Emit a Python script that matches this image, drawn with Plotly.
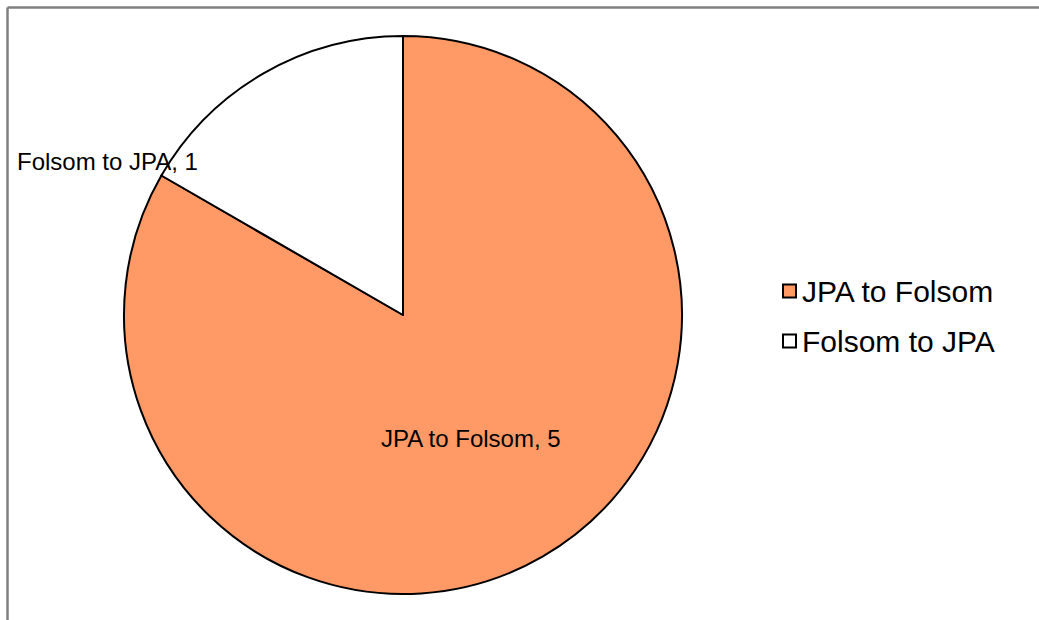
import plotly.graph_objects as go

labels = ["JPA to Folsom", "Folsom to JPA"]
values = [5, 1]
colors = ["#FF9966", "#FFFFFF"]

W, H = 1039, 620


def px(x):
    return x / W


def py(y):
    return 1 - y / H


cx, cy, r = 403, 315, 279

fig = go.Figure()
fig.add_trace(go.Pie(
    labels=labels,
    values=values,
    sort=False,
    direction="clockwise",
    rotation=0,
    marker=dict(colors=colors, line=dict(color="#000000", width=2)),
    textinfo="none",
    hoverinfo="label+value",
    domain=dict(x=[px(cx - r), px(cx + r)], y=[py(cy + r), py(cy - r)]),
    showlegend=False,
))

# data labels
label_pos = [(471, 438), (107, 162)]
for lab, val, (lx, ly) in zip(labels, values, label_pos):
    fig.add_annotation(
        x=px(lx), y=py(ly), xref="paper", yref="paper",
        text=f"{lab}, {val}", showarrow=False,
        font=dict(family="Liberation Sans, Arial", size=24, color="#000000"),
        xanchor="center", yanchor="middle",
    )

# legend (drawn at the right)
leg_y = [291, 341]
for lab, col, ly in zip(labels, colors, leg_y):
    fig.add_shape(type="rect", xref="paper", yref="paper",
                  x0=px(783), x1=px(796), y0=py(ly + 6.5), y1=py(ly - 6.5),
                  line=dict(color="#000000", width=2), fillcolor=col)
    fig.add_annotation(
        x=px(800), y=py(ly), xref="paper", yref="paper",
        text=lab, showarrow=False,
        font=dict(family="Liberation Sans, Arial", size=30, color="#000000"),
        xanchor="left", yanchor="middle",
    )

# outer frame (top and left edges)
fig.add_shape(type="line", xref="paper", yref="paper",
              x0=px(7.5), x1=1.02, y0=py(7.5), y1=py(7.5),
              line=dict(color="#808080", width=2.5))
fig.add_shape(type="line", xref="paper", yref="paper",
              x0=px(7.5), x1=px(7.5), y0=py(7.5), y1=-0.05,
              line=dict(color="#808080", width=2.5))

fig.update_layout(
    width=W, height=H,
    margin=dict(l=0, r=0, t=0, b=0),
    paper_bgcolor="#FFFFFF",
    plot_bgcolor="#FFFFFF",
    showlegend=False,
)

fig.write_html(
    "out.html",
    config={"displayModeBar": False},
    post_script="document.body.style.margin='0';document.body.style.overflow='hidden';",
)
